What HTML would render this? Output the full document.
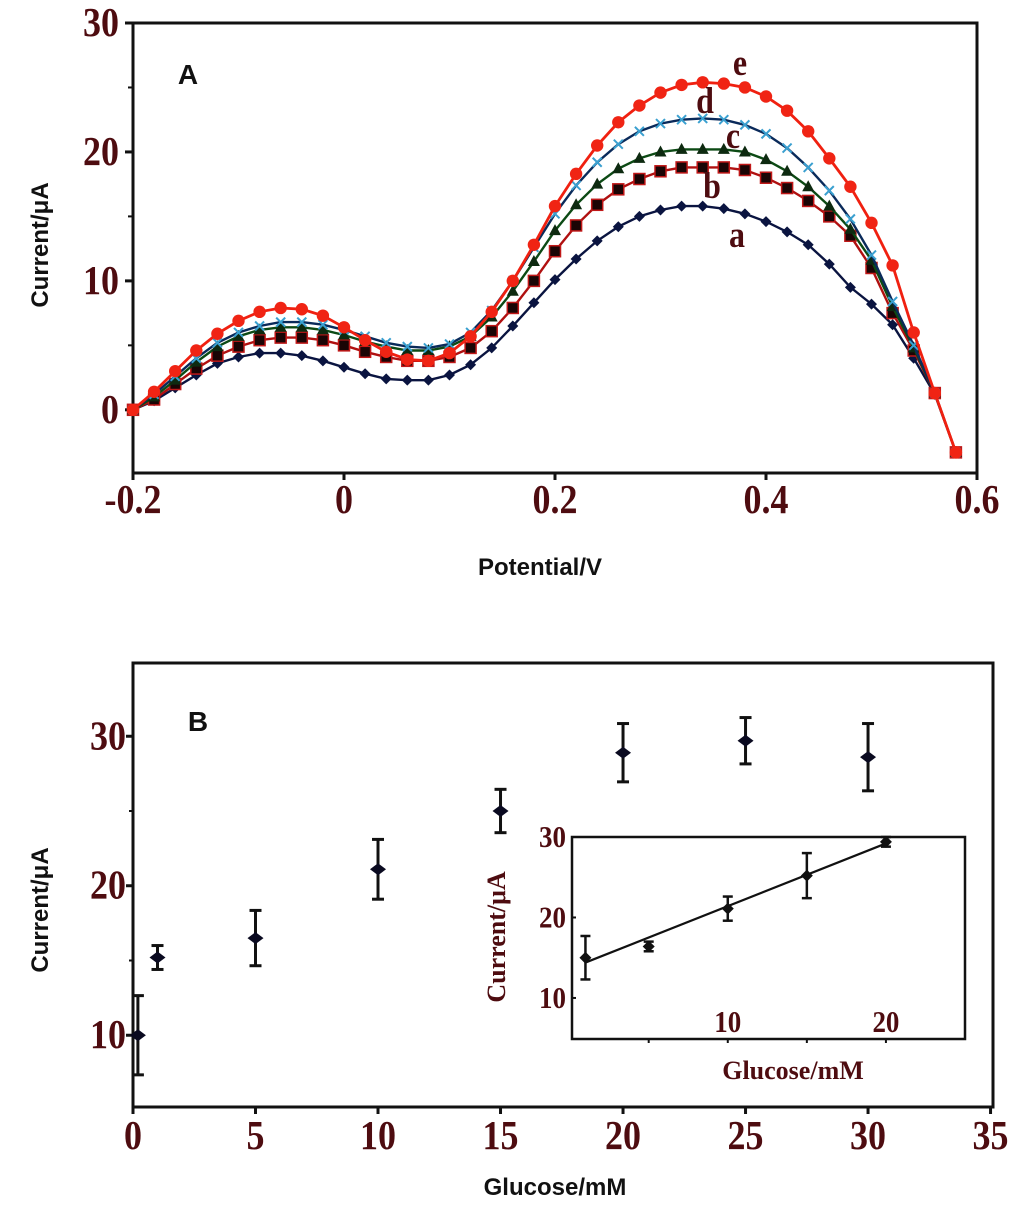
<!DOCTYPE html>
<html><head><meta charset="utf-8">
<style>
html,body{margin:0;padding:0;background:#fff;}
body{width:1024px;height:1209px;overflow:hidden;}
svg{display:block;}
.tk{font-family:"Liberation Serif",serif;font-weight:bold;fill:#4e0c10;}
.ttl{font-family:"Liberation Sans",sans-serif;font-weight:bold;fill:#111;}
</style></head>
<body>
<svg id="fig" width="1024" height="1209" viewBox="0 0 1024 1209"></svg>
<script>
// ---- Panel A data ----
const potentials = [-0.2,-0.18,-0.16,-0.14,-0.12,-0.10,-0.08,-0.06,-0.04,-0.02,0,0.02,0.04,0.06,0.08,0.10,0.12,0.14,0.16,0.18,0.20,0.22,0.24,0.26,0.28,0.30,0.32,0.34,0.36,0.38,0.40,0.42,0.44,0.46,0.48,0.50,0.52,0.54,0.56,0.58];
const curveE = [0,1.4,3.0,4.6,5.9,6.9,7.6,7.9,7.8,7.3,6.4,5.4,4.5,3.9,3.8,4.4,5.7,7.6,10.0,12.8,15.8,18.3,20.5,22.3,23.6,24.6,25.2,25.4,25.3,25.0,24.3,23.2,21.6,19.5,17.3,14.5,11.2,6.0,1.3,-3.3];
const curveD = [0,1.2,2.6,4.0,5.2,6.0,6.5,6.8,6.8,6.6,6.2,5.7,5.2,4.9,4.8,5.1,6.0,7.7,10.0,12.6,15.2,17.4,19.2,20.6,21.6,22.2,22.5,22.6,22.5,22.1,21.4,20.3,18.8,17.0,14.8,12.0,8.4,5.0,1.3,-3.3];
const curveC = [0,1.0,2.3,3.7,4.9,5.7,6.2,6.4,6.4,6.2,5.8,5.3,4.9,4.6,4.6,4.9,5.7,7.2,9.2,11.5,13.9,15.9,17.5,18.7,19.5,20.0,20.2,20.2,20.2,20.0,19.4,18.5,17.3,15.8,14.0,11.6,8.0,4.8,1.3,-3.3];
const curveB = [0,0.8,2.0,3.2,4.2,4.9,5.4,5.6,5.6,5.4,5.0,4.5,4.1,3.8,3.8,4.1,4.8,6.1,7.9,10.0,12.3,14.3,15.9,17.1,17.9,18.5,18.8,18.8,18.8,18.6,18.0,17.2,16.2,15.0,13.5,11.0,7.5,4.6,1.3,-3.3];
const curveA = [0,0.7,1.7,2.7,3.6,4.1,4.4,4.4,4.2,3.8,3.3,2.8,2.4,2.3,2.3,2.7,3.5,4.8,6.5,8.3,10.1,11.7,13.1,14.2,15.0,15.5,15.8,15.8,15.6,15.2,14.6,13.8,12.8,11.3,9.5,8.2,6.6,4.0,1.2,-3.3];
const xTicksA = [-0.2,0,0.2,0.4,0.6];
const xTickLabelsA = ["-0.2","0","0.2","0.4","0.6"];
const yTicksA = [0,10,20,30];
// ---- Panel B data ----
const glucose = [0.2,1,5,10,15,20,25,30];
const currentB = [10.0,15.2,16.5,21.1,25.0,28.9,29.7,28.6];
const errorB = [2.65,0.8,1.85,2.0,1.45,1.95,1.55,2.25];
const xTicksB = [0,5,10,15,20,25,30,35];
const yTicksB = [10,20,30];
// ---- Inset data ----
const glucoseIn = [1,5,10,15,20];
const currentIn = [15.0,16.4,21.1,25.2,29.4];
const errorIn = [2.7,0.6,1.5,2.8,0.6];
const fitIn = [14.4,29.2];
const fitX = [1,20];
const xTicksIn = [10,20];
const yTicksIn = [10,20,30];

const NS="http://www.w3.org/2000/svg";
const svg=document.getElementById('fig');
function mk(tag,attrs,parent){const e=document.createElementNS(NS,tag);for(const k in attrs)e.setAttribute(k,attrs[k]);(parent||svg).appendChild(e);return e;}
function txt(s,attrs,parent){const e=mk('text',attrs,parent);e.textContent=s;return e;}
// stretched tick label (taller, like the reference)
function stxt(s,x,y,anchor,size,parent){
  return txt(s,{x:0,y:0,'text-anchor':anchor,'font-size':size,class:'tk',transform:`translate(${x},${y}) scale(1,1.15)`},parent);
}

// ---------- Panel A ----------
const A={l:133,r:977,t:23,b:473,x0:-0.2,x1:0.6,y0:-4.9,y1:30};
const ax=v=>A.l+(v-A.x0)/(A.x1-A.x0)*(A.r-A.l);
const ay=v=>A.b-(v-A.y0)/(A.y1-A.y0)*(A.b-A.t);
const gA=mk('g',{});


const frA=mk('rect',{x:A.l,y:A.t,width:A.r-A.l,height:A.b-A.t,fill:'none',stroke:'#111','stroke-width':3},gA);


yTicksA.forEach(v=>{
  mk('line',{x1:A.l-8,x2:A.l,y1:ay(v),y2:ay(v),stroke:'#111','stroke-width':3},gA);
  const t=stxt(String(v),A.l-14,ay(v)+13,'end',36,gA);
  
  
});
[5,15,25].forEach(v=>mk('line',{x1:A.l-5,x2:A.l,y1:ay(v),y2:ay(v),stroke:'#111','stroke-width':2},gA));
xTicksA.forEach((v,i)=>{
  mk('line',{x1:ax(v),x2:ax(v),y1:A.b,y2:A.b+7,stroke:'#111','stroke-width':3},gA);
  const t=stxt(xTickLabelsA[i],ax(v),A.b+40,'middle',36,gA);
  
  
});
const ytA=txt('Current/μA',{x:0,y:0,'font-size':24,class:'ttl','text-anchor':'middle',transform:'translate(48,245) rotate(-90)'},gA);


const xtA=txt('Potential/V',{x:540,y:575,'font-size':24,class:'ttl','text-anchor':'middle'},gA);


const lbA=txt('A',{x:188,y:84,'font-size':28,class:'ttl','text-anchor':'middle',fill:'#0b1030'},gA);



function series(vals,name,line,lw,marker){
  const g=mk('g',{},gA);
  
  
  const pts=vals.map((v,i)=>ax(potentials[i]).toFixed(1)+','+ay(v).toFixed(1)).join(' ');
  mk('polyline',{points:pts,fill:'none',stroke:line,'stroke-width':lw},g);
  vals.forEach((v,i)=>{const x=ax(potentials[i]),y=ay(v);marker(g,x,y);});
}
series(curveA,'curve-a','#0a1440',2.4,(g,x,y)=>mk('polygon',{points:`${x},${y-5.5} ${x+5.5},${y} ${x},${y+5.5} ${x-5.5},${y}`,fill:'#0a1440'},g));
series(curveB,'curve-b','#b01010',2.4,(g,x,y)=>mk('rect',{x:x-5.5,y:y-5.5,width:11,height:11,fill:'#1a0505',stroke:'#c01818','stroke-width':1.5},g));
series(curveC,'curve-c','#0c4a14',2.4,(g,x,y)=>mk('polygon',{points:`${x},${y-6.5} ${x+6},${y+4.5} ${x-6},${y+4.5}`,fill:'#0d2a10'},g));
series(curveD,'curve-d','#0a2a5a',2.4,(g,x,y)=>{mk('path',{d:`M${x-4.5},${y-4.5}L${x+4.5},${y+4.5}M${x-4.5},${y+4.5}L${x+4.5},${y-4.5}`,stroke:'#3aa0d0','stroke-width':2},g);});
series(curveE,'curve-e','#f02010',2.8,(g,x,y)=>mk('circle',{cx:x,cy:y,r:6.2,fill:'#f02414'},g));
[['e',740,75],['d',705,113],['c',733,148],['b',712,198],['a',737,247]].forEach(([s,x,y])=>{
  const t=stxt(s,x,y,'middle',32,gA);
  
  
});

// ---------- Panel B ----------
const B={l:133,r:993,t:663,b:1107,x0:0,x1:35.1,y0:5.2,y1:34.9};
const bx=v=>B.l+(v-B.x0)/(B.x1-B.x0)*(B.r-B.l);
const by=v=>B.b-(v-B.y0)/(B.y1-B.y0)*(B.b-B.t);
const gB=mk('g',{});


const frB=mk('rect',{x:B.l,y:B.t,width:B.r-B.l,height:B.b-B.t,fill:'none',stroke:'#111','stroke-width':3},gB);


yTicksB.forEach(v=>{
  mk('line',{x1:B.l-7,x2:B.l,y1:by(v),y2:by(v),stroke:'#111','stroke-width':3},gB);
  const t=stxt(String(v),B.l-7,by(v)+13,'end',36,gB);
  
  
});
[15,25].forEach(v=>mk('line',{x1:B.l-4,x2:B.l,y1:by(v),y2:by(v),stroke:'#111','stroke-width':2},gB));
xTicksB.forEach(v=>{
  mk('line',{x1:bx(v),x2:bx(v),y1:B.b,y2:B.b+7,stroke:'#111','stroke-width':3},gB);
  const t=stxt(String(v),bx(v),B.b+42,'middle',36,gB);
  
  
});
const ytB=txt('Current/μA',{x:0,y:0,'font-size':24,class:'ttl','text-anchor':'middle',transform:'translate(48,910) rotate(-90)'},gB);


const xtB=txt('Glucose/mM',{x:555,y:1195,'font-size':24,class:'ttl','text-anchor':'middle'},gB);


const lbB=txt('B',{x:198,y:731,'font-size':28,class:'ttl','text-anchor':'middle',fill:'#0b1030'},gB);


glucose.forEach((g,i)=>{
  const grp=mk('g',{},gB);
  
  
  const x=bx(g),y=by(currentB[i]),yh=by(currentB[i]+errorB[i]),yl=by(currentB[i]-errorB[i]);
  mk('line',{x1:x,x2:x,y1:yh,y2:yl,stroke:'#111','stroke-width':3},grp);
  mk('line',{x1:x-6,x2:x+6,y1:yh,y2:yh,stroke:'#111','stroke-width':3},grp);
  mk('line',{x1:x-6,x2:x+6,y1:yl,y2:yl,stroke:'#111','stroke-width':3},grp);
  mk('polygon',{points:`${x},${y-6} ${x+8},${y} ${x},${y+6} ${x-8},${y}`,fill:'#0a0a20'},grp);
});

// ---------- Inset ----------
const I={l:572,r:965,t:837,b:1039,x0:0.15,x1:25,y0:4.9,y1:30};
const ix=v=>I.l+(v-I.x0)/(I.x1-I.x0)*(I.r-I.l);
const iy=v=>I.b-(v-I.y0)/(I.y1-I.y0)*(I.b-I.t);
const gI=mk('g',{});


const frI=mk('rect',{x:I.l,y:I.t,width:I.r-I.l,height:I.b-I.t,fill:'#fff',stroke:'#111','stroke-width':2.5},gI);


yTicksIn.forEach(v=>{
  mk('line',{x1:I.l,x2:I.l+4,y1:iy(v),y2:iy(v),stroke:'#111','stroke-width':2},gI);
  const t=stxt(String(v),I.l-6,iy(v)+10,'end',27,gI);
  
  
});
[5,10,15,20].forEach(v=>mk('line',{x1:ix(v),x2:ix(v),y1:I.b,y2:I.b+4,stroke:'#111','stroke-width':2},gI));
xTicksIn.forEach(v=>{
  const t=stxt(String(v),ix(v),I.b-7,'middle',27,gI);
  
  
});
const ytI=txt('Current/μA',{x:0,y:0,'font-size':26,class:'tk','text-anchor':'middle',transform:'translate(505,937) rotate(-90)'},gI);


const xtI=txt('Glucose/mM',{x:793,y:1079,'font-size':26,class:'tk','text-anchor':'middle'},gI);


const fit=mk('line',{x1:ix(fitX[0]),y1:iy(fitIn[0]),x2:ix(fitX[1]),y2:iy(fitIn[1]),stroke:'#111','stroke-width':2.2},gI);


glucoseIn.forEach((g,i)=>{
  const grp=mk('g',{},gI);
  
  
  const x=ix(g),y=iy(currentIn[i]),yh=iy(currentIn[i]+errorIn[i]),yl=iy(currentIn[i]-errorIn[i]);
  mk('line',{x1:x,x2:x,y1:yh,y2:yl,stroke:'#111','stroke-width':2.5},grp);
  mk('line',{x1:x-5,x2:x+5,y1:yh,y2:yh,stroke:'#111','stroke-width':2.5},grp);
  mk('line',{x1:x-5,x2:x+5,y1:yl,y2:yl,stroke:'#111','stroke-width':2.5},grp);
  mk('polygon',{points:`${x},${y-6} ${x+6},${y} ${x},${y+6} ${x-6},${y}`,fill:'#111'},grp);
});
</script>
</body></html>
